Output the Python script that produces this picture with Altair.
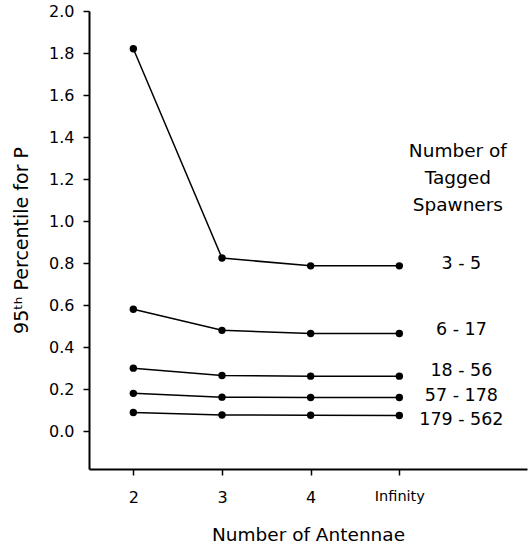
import altair as alt
import pandas as pd

antennae = [2, 3, 4, 5]  # 5 stands for "Infinity"
series_names = ["3 - 5", "6 - 17", "18 - 56", "57 - 178", "179 - 562"]
v_3_5 = [1.82, 0.824, 0.787, 0.787]
v_6_17 = [0.58, 0.48, 0.465, 0.465]
v_18_56 = [0.30, 0.265, 0.262, 0.262]
v_57_178 = [0.18, 0.162, 0.16, 0.16]
v_179_562 = [0.089, 0.077, 0.076, 0.075]
all_values = [v_3_5, v_6_17, v_18_56, v_57_178, v_179_562]
header_lines = ["Number of", "Tagged", "Spawners"]

rows = []
for name, vals in zip(series_names, all_values):
    for a, v in zip(antennae, vals):
        rows.append({"series": name, "antennae": a, "p95": v})
df = pd.DataFrame(rows)

FONT = "DejaVu Sans"

xs = alt.Scale(domain=[1.5, 6.44], nice=False, zero=False)
ys = alt.Scale(domain=[-0.18, 2.0], nice=False, zero=False)

x_axis = alt.Axis(
    values=antennae,
    labelExpr="datum.value == 5 ? 'Infinity' : datum.value",
    title="Number of Antennae",
    grid=False,
    tickSize=6,
    labelFontSize=alt.condition("datum.value == 5", alt.value(14.5), alt.value(16)),
    labelPadding=14,
    titlePadding=20,
    titleFontSize=18.5,
    titleFontWeight="normal",
    domainWidth=2,
    tickWidth=1.5,
)
y_axis = alt.Axis(
    values=[round(i * 0.2, 1) for i in range(11)],
    format=".1f",
    title="95ᵗʰ Percentile for P",
    grid=False,
    tickSize=6,
    labelFontSize=16,
    labelPadding=9,
    titlePadding=17,
    titleFontSize=19,
    titleFontWeight="normal",
    domainWidth=2,
    tickWidth=1.5,
)

base = alt.Chart(df).encode(
    x=alt.X("antennae:Q", scale=xs, axis=x_axis),
    y=alt.Y("p95:Q", scale=ys, axis=y_axis),
    detail="series:N",
)
lines = base.mark_line(color="black", strokeWidth=1.5)
points = base.mark_circle(color="black", size=55, opacity=1)

layers = [lines, points]

# series labels placed beside the last point of each series
label_dy = [-2, -3, -5, -2, 5]
for name, vals, dy in zip(series_names, all_values, label_dy):
    ldf = pd.DataFrame({"t": [name], "x": [5.7], "y": [vals[-1]]})
    layers.append(
        alt.Chart(ldf).mark_text(font=FONT, fontSize=17.5, color="black", align="center",
                                 baseline="middle", dy=dy)
        .encode(x=alt.X("x:Q", scale=xs), y=alt.Y("y:Q", scale=ys), text="t:N")
    )

hdf = pd.DataFrame({"t": [header_lines], "x": [5.66], "y": [1.333]})
layers.append(
    alt.Chart(hdf).mark_text(font=FONT, fontSize=18.5, color="black", align="center",
                             baseline="middle", lineHeight=27)
    .encode(x=alt.X("x:Q", scale=xs), y=alt.Y("y:Q", scale=ys), text="t")
)

chart = alt.layer(*layers).properties(
    width=438, height=458,
    autosize=alt.AutoSizeParams(type="none"),
    padding={"left": 89, "top": 11, "right": 3, "bottom": 84},
    background="white",
).configure_view(stroke=None).configure_axis(
    labelFont=FONT, titleFont=FONT, labelColor="black", titleColor="black",
    domainColor="black", tickColor="black",
)

chart.save("out.html", embed_options={"renderer": "svg", "actions": False})
